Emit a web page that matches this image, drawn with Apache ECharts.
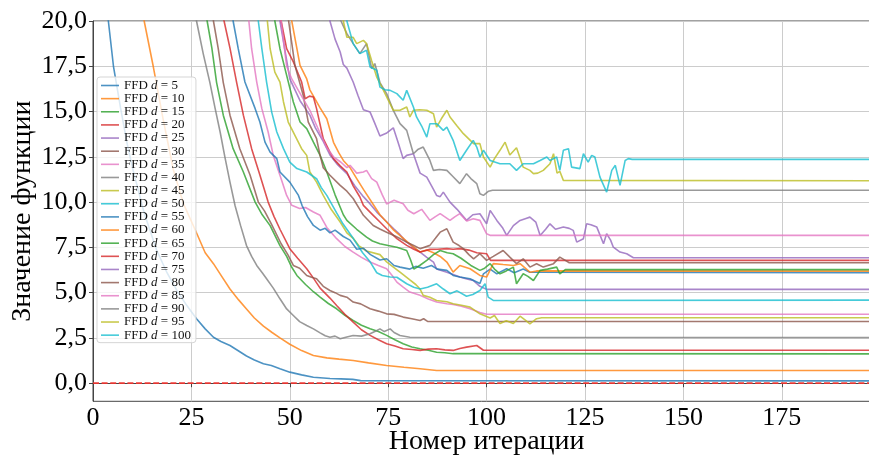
<!DOCTYPE html>
<html><head><meta charset="utf-8">
<script src="https://cdn.jsdelivr.net/npm/echarts@6/dist/echarts.min.js"></script>
<style>html,body{margin:0;padding:0;background:#fff}#c{width:869px;height:459px}</style>
</head><body><div id="c"></div>
<script>
// ---- data (x = iteration, y = function value) ----
const dims = [5,10,15,20,25,30,35,40,45,50,55,60,65,70,75,80,85,90,95,100];
const colors = ['#1f77b4','#ff7f0e','#2ca02c','#d62728','#9467bd','#8c564b','#e377c2','#7f7f7f','#bcbd22','#17becf'];
const xTicks = [0,25,50,75,100,125,150,175];
const yTicks = [0,2.5,5,7.5,10,12.5,15,17.5,20];

const d5 = [[2.5,22.8],[3.9,20],[5.2,17.5],[7,15.2],[8.6,13.3],[10.2,11.75],[13,9.4],[16.2,7.33],[18.8,6.1],[21.3,5.12],[23.8,4.3],[26.3,3.56],[28.5,3.0],[30.6,2.54],[32.5,2.3],[34.8,2.08],[37,1.78],[39,1.5],[41,1.28],[43.3,1.07],[45.3,0.98],[47.5,0.8],[50,0.61],[53,0.46],[56,0.33],[60.2,0.26],[63,0.24],[66,0.21],[68,0.14],[200,0.13]];
const d10 = [[11,23.3],[13,20],[15.3,17.5],[17.8,14.6],[20.4,11.8],[23,9.9],[25.9,8.5],[28.5,7.2],[30.6,6.6],[32.7,5.9],[34.8,5.2],[37,4.6],[39,4.1],[41,3.6],[43.3,3.15],[45.5,2.8],[47.5,2.5],[50,2.15],[53,1.8],[56,1.53],[59.4,1.4],[62.5,1.33],[66.1,1.25],[70,1.12],[74.6,0.98],[79,0.88],[83.1,0.8],[87.3,0.7],[200,0.7]];
const d15 = [[27.5,22],[29,20],[30.2,18.5],[31.4,16.6],[33.1,14.8],[35.6,12.95],[38.2,11.66],[41.2,10.0],[43,9.3],[45,8.7],[47.5,7.6],[49.2,7.0],[50.5,6.4],[51.8,5.95],[54,5.45],[56,5.05],[57.7,4.75],[59.8,4.4],[61.9,4.11],[64,3.75],[66.1,3.46],[68.2,3.2],[70.4,3.0],[72.5,2.85],[74.6,2.64],[76.7,2.4],[78.8,2.18],[81,2.0],[83.1,1.9],[85.2,1.82],[87.3,1.71],[89.4,1.68],[91.5,1.63],[200,1.62]];
const d20 = [[31.5,22.3],[33.3,20],[34.8,18.5],[36.5,16.6],[38.2,14.8],[40.3,12.95],[42.4,11.5],[44.5,10.0],[46,9.2],[47.5,8.5],[50,7.43],[52,6.9],[54.3,6.32],[56,5.8],[57.7,5.25],[60.2,4.7],[61.9,4.29],[64,3.8],[66.1,3.37],[68.2,2.95],[70.4,2.64],[72.5,2.4],[74.6,2.18],[76.7,2.05],[78.8,1.9],[81,1.86],[83.1,1.81],[85.2,1.88],[87.3,1.9],[89.4,1.84],[91.5,1.81],[93.2,1.92],[94.9,1.99],[97.5,2.08],[99.2,1.82],[200,1.82]];
const d25 = [[46,22.3],[47.5,20],[50,16.8],[52.6,15.6],[55.1,14.8],[56.5,14.1],[58.5,13.35],[60.2,12.6],[62,12.1],[64.5,11.57],[66.5,10.9],[68.7,10.3],[70.4,9.9],[72.1,9.45],[74.2,9.0],[76.4,8.53],[78,8.2],[79.7,7.79],[81.4,7.5],[83.1,7.24],[84.8,6.95],[86.5,6.69],[87.3,6.3],[89.9,6.13],[91.5,6.0],[93.2,5.86],[95,5.75],[96.6,5.67],[98.3,5.35],[100,5.18],[200,5.18]];
const d30 = [[29,22.5],[30.6,20],[31.8,18.5],[33.1,16.6],[34.8,14.8],[37.3,12.95],[39.9,11.5],[42,10.0],[43.6,9.5],[45.3,8.8],[47.8,7.7],[49.5,7.1],[50.9,6.5],[52.5,6.35],[54.3,5.95],[55.5,5.85],[56.8,5.77],[58.5,5.35],[60.2,5.12],[61.5,5.0],[62.8,4.85],[64.5,4.75],[66.1,4.48],[68,4.38],[70.4,4.11],[72.5,3.98],[74.6,3.83],[76.5,3.8],[78.8,3.65],[81,3.56],[83.1,3.46],[84,3.56],[85,3.41],[200,3.41]];
const d35 = [[38,22.5],[39.6,20],[40.3,18.47],[41.6,16.63],[42.9,15.16],[44.5,13.87],[45.8,12.58],[47.5,11.48],[49.2,10.37],[50.5,9.82],[52.5,9.65],[54,9.7],[56,9.45],[57.7,9.27],[59.4,8.6],[61.9,7.98],[64,7.55],[66.1,7.24],[68.2,6.95],[70.4,6.69],[72.5,6.5],[74.6,6.32],[76,5.95],[77.2,5.58],[78.8,5.3],[80.5,5.03],[83.1,4.85],[85.2,4.65],[87.3,4.48],[89.9,4.39],[91.5,4.35],[93.6,4.25],[95.8,4.11],[98.3,3.9],[100,3.81],[200,3.81]];
const d40 = [[24.5,22.8],[26.3,20],[28,18.2],[29.7,16.6],[31,15.2],[32.3,13.87],[33.5,12.5],[34.8,11.1],[36.1,9.8],[37.5,8.7],[39,7.6],[40.3,7.0],[41.6,6.5],[43,6.1],[44.1,5.77],[45.8,5.25],[47.5,4.66],[49.2,4.1],[50.9,3.74],[52.5,3.4],[54.3,3.19],[56,3.0],[57.7,2.78],[59,2.62],[60.2,2.54],[61.5,2.6],[62.8,2.45],[64.5,2.55],[66.1,2.63],[68.2,2.6],[70.4,2.73],[72,2.9],[72.9,3.0],[74,2.85],[75.5,3.0],[76.5,2.8],[78,2.63],[80.5,2.54],[200,2.52]];
const d45 = [[42.5,22.3],[44.3,20],[45,18.47],[46.2,17.18],[47.5,16.63],[48.4,15.53],[49.6,14.42],[51.3,13.69],[53,12.95],[54.3,12.58],[55.1,11.66],[56.8,11.1],[58.5,10.37],[60.5,9.6],[62.8,8.9],[64.5,8.3],[66.1,8.0],[67.5,7.6],[69.5,7.3],[72.9,7.1],[74.6,6.7],[76.4,6.4],[78,6.13],[80.5,5.7],[82,5.45],[83.1,5.2],[83.9,4.85],[85.6,4.75],[87.3,4.57],[89.9,4.5],[91.5,4.39],[93.6,4.3],[95.8,4.2],[98.3,3.83],[100.9,3.6],[102,3.74],[103.4,3.3],[105,3.45],[106.8,3.3],[108.5,3.7],[110,3.45],[111,3.28],[112.7,3.56],[114,3.61],[200,3.61]];
const d50 = [[40.5,22.5],[42,20],[42.9,18.47],[44.1,16.63],[45.4,14.97],[46.7,13.87],[48.4,12.95],[50,12.21],[51.8,11.85],[54.3,11.66],[56.8,11.29],[58,10.8],[59.4,10.37],[61.9,9.4],[63.5,8.8],[66.1,8.0],[67,7.7],[68.5,7.2],[70.4,6.7],[72.1,6.1],[73.5,5.95],[75.5,5.86],[77.2,5.85],[79.7,5.49],[81.5,5.3],[83.1,5.2],[85,5.3],[87.3,5.49],[89,5.2],[90.7,4.94],[92.5,5.1],[94.9,4.8],[96.5,4.9],[98.3,5.12],[99.6,5.49],[100.4,4.75],[101.7,4.57],[200,4.59]];
const d55 = [[34,22.5],[35.6,20],[36.9,18.47],[38.6,16.63],[41.2,15.16],[42.4,14.42],[43.7,13.31],[45,12.76],[46.7,12.4],[47.5,11.66],[50,11.1],[52.2,10.37],[53.1,9.82],[54.5,9.2],[56,8.71],[57.7,8.45],[59,8.55],[60.2,8.3],[61.5,8.45],[63.6,8.1],[65.3,7.9],[67,7.4],[68.7,7.45],[70.5,7.1],[72.9,6.8],[74.6,6.87],[76.5,6.5],[78,6.41],[80.5,6.3],[82,6.45],[83.9,6.35],[86,6.5],[87.5,6.3],[89.9,6.23],[91.5,5.95],[93.2,5.86],[95.8,5.77],[98.3,5.5],[99.2,6.04],[100.9,6.3],[102.6,6.04],[104,6.2],[105.1,6.32],[107,6.1],[109.3,6.3],[111,6.13],[200,6.1]];
const d60 = [[48.5,22.5],[50.5,20],[51.7,18.6],[52.6,17.55],[54.3,16.8],[55.1,16.2],[57.7,15.2],[59.4,14.6],[61.1,13.3],[62.5,12.7],[63.6,12.3],[65.3,11.9],[67,11.3],[68.7,10.7],[70.5,10.1],[72.9,9.3],[74.6,8.9],[76.4,8.45],[78.9,7.98],[81,7.6],[83.1,7.24],[84.8,7.35],[86.5,7.2],[88.2,7.0],[89.9,6.69],[91.5,6.13],[93.2,6.5],[95.8,6.32],[98.3,5.95],[100,5.86],[101.7,6.6],[104.2,6.55],[106.8,6.5],[108.5,6.6],[111,6.13],[112.7,6.2],[200,6.19]];
const d65 = [[44.5,22.5],[46.2,20],[47.5,18.47],[49.2,17.0],[50.9,15.53],[52.6,14.42],[54.3,14.06],[56,13.31],[57.7,12.58],[59.4,11.66],[61.5,10.4],[63.6,9.3],[64.5,8.99],[67,8.5],[69.5,8.07],[71,7.85],[72.9,7.7],[75,7.6],[77.2,7.51],[79.7,7.33],[80.7,6.8],[81.5,6.3],[83,6.5],[84.8,6.78],[86.5,7.1],[88.2,7.33],[90,7.2],[91.5,7.15],[93.5,6.9],[96,6.5],[98.3,6.23],[99.5,6.35],[100.9,6.6],[102,6.3],[103.4,6.04],[105,6.2],[106.8,6.41],[107.6,5.49],[109.3,6.04],[110.5,5.9],[111.9,5.67],[113.6,6.23],[115.5,6.3],[117.8,6.41],[118.6,6.04],[120,6.27],[200,6.27]];
const d70 = [[46,22.5],[47.8,20],[49.2,18.47],[50.9,17.74],[53,16.63],[53.9,15.71],[55,15.85],[56,15.8],[56.8,15.16],[58.5,13.5],[60.2,12.76],[61.1,12.4],[62.8,12.0],[64.5,11.66],[66.1,10.9],[67.8,10.28],[68.7,9.82],[71.2,9.27],[72.9,8.9],[74.6,8.53],[77.2,7.98],[79.7,7.61],[81.5,7.4],[83.1,7.24],[85.6,7.39],[87.5,7.4],[89.9,7.43],[91.5,7.4],[93.2,7.43],[95.5,7.35],[97.5,7.2],[100,7.15],[101,6.78],[200,6.78]];
const d75 = [[59,22],[60.2,20],[61.5,19.0],[62.8,18.29],[63.6,17.6],[64.5,17.4],[66.1,16.63],[67.3,15.9],[68.7,15.1],[70.4,14.97],[71.5,14.4],[72.9,13.65],[74.5,13.8],[76.3,14.1],[77.5,13.3],[78.8,12.4],[79.7,12.58],[81.4,12.67],[83.1,11.6],[84.8,11.38],[86.5,10.7],[87.3,10.37],[88.2,10.3],[89,10.55],[90.7,10.0],[92.5,9.6],[94.9,8.99],[96.5,9.3],[98.3,9.36],[100,8.8],[100.9,9.54],[102.6,8.99],[104,8.6],[105.1,8.16],[106.8,8.7],[108.5,8.99],[110,9.1],[111,9.17],[112.5,8.9],[113.6,8.16],[115,8.5],[116.1,8.8],[117.5,8.5],[119.5,8.62],[121,8.55],[122,8.44],[122.9,7.79],[124.6,7.98],[125.4,8.8],[126.5,8.75],[128,8.62],[129.7,7.7],[130.5,8.25],[131.5,7.9],[132.2,7.51],[133.9,7.24],[135.6,7.15],[137.3,6.93],[200,6.93]];
const d80 = [[48,22.5],[49.7,20],[51.3,17.55],[53.4,15.9],[54.7,14.42],[56.8,13.5],[57.7,12.58],[58.5,11.9],[60.2,11.48],[62.8,10.92],[64.5,10.6],[66.1,10.2],[68.7,9.27],[71.2,8.71],[73,8.5],[74.6,8.34],[77,8.1],[79.7,7.79],[81.5,7.6],[83.1,7.43],[85.6,7.61],[87,8.0],[88.2,8.34],[89.9,8.53],[91.5,7.79],[93,7.6],[94.1,7.43],[95.5,7.1],[96.7,6.87],[98.3,7.15],[100,6.78],[101.7,7.0],[104.2,7.33],[105.9,6.96],[107.6,6.6],[109.3,6.87],[111,6.41],[112.7,6.6],[114.4,6.41],[117,6.6],[118.6,6.96],[120,6.78],[121,6.65],[200,6.65]];
const d85 = [[46,22.5],[47.8,20],[49.2,17.5],[50.5,16.8],[51.7,16.35],[53.4,15.7],[55.1,15.07],[57.7,13.8],[59.4,13.0],[61.1,12.5],[63,12.2],[64.5,11.9],[65.3,12.03],[67,11.6],[68.7,11.66],[69.5,11.75],[70.8,11.3],[72.1,11.1],[73.5,10.4],[74.6,9.9],[76.5,10.1],[78.8,9.91],[80,9.55],[81.5,9.36],[83.5,9.6],[85.6,8.99],[87,9.2],[88.2,9.36],[90.7,8.99],[92,9.2],[93.2,9.36],[95,8.95],[96.6,9.08],[98.3,8.99],[100,8.25],[101,8.16],[200,8.16]];
const d90 = [[61.5,21],[63,20],[64.5,19.3],[66.1,18.75],[67.8,18.2],[69.5,18.75],[70.8,17.37],[71.6,17.65],[72.9,16.6],[74.6,15.99],[76.3,15.07],[78,14.33],[79.7,13.96],[81.4,12.67],[82.5,12.9],[83.9,13.04],[85.6,12.3],[86.5,11.75],[88,11.8],[89.9,11.75],[91.5,11.4],[93.2,11.02],[94.9,11.57],[96,11.3],[97.5,11.02],[98.3,10.46],[99.2,10.37],[100.5,10.6],[101.5,10.65],[200,10.65]];
const d95 = [[62.5,21.5],[63.6,20],[64.5,19.1],[66.1,19.1],[67,18.75],[68.7,18.93],[69.5,18.75],[70.8,17.8],[72.1,16.9],[73.8,16.17],[76.3,15.07],[78,15.07],[79.7,15.25],[80.5,14.7],[81.4,15.07],[83,15.1],[84.8,15.07],[86.5,14.88],[87.3,14.14],[88.5,14.6],[89.9,15.07],[90.7,14.7],[92.5,14.2],[94.1,13.78],[96.7,13.23],[98.3,13.23],[99.2,12.49],[100.9,11.93],[102,12.4],[103.4,12.86],[104.7,13.31],[105.9,12.6],[107.6,13.0],[109.3,11.93],[111,11.75],[111.9,11.57],[113,11.6],[114.4,11.75],[116.1,12.12],[117,12.67],[117.9,11.6],[118.6,11.7],[119.5,11.2],[200,11.18]];
const d100 = [[63.5,21.5],[64.5,20],[66.1,18.75],[67.8,18.2],[69.5,18.38],[70.4,17.46],[72.1,17.28],[72.9,16.35],[74.2,16.2],[75.5,16.17],[77.2,15.99],[78.8,15.62],[79.7,16.17],[81.4,15.25],[82.2,14.7],[83.5,14.2],[84.8,13.59],[85.6,14.33],[87.3,14.33],[89,13.96],[89.9,14.14],[91.5,13.41],[93.2,12.3],[94.9,12.86],[96.6,13.41],[97.5,13.04],[98.3,12.49],[99.2,12.86],[100.9,12.3],[103.4,12.12],[105.9,12.12],[107.6,11.75],[109.3,12.12],[111.9,12.12],[113.6,12.3],[115.3,12.49],[116.1,12.3],[117.8,12.49],[118.6,11.75],[119.5,12.86],[120.8,12.95],[121.6,11.93],[123.7,11.85],[124.6,12.67],[125.8,12.21],[126.7,12.58],[127.5,12.49],[128.8,11.38],[130.5,10.55],[131.8,11.75],[132.7,12.03],[133.9,10.92],[135.2,12.3],[136,12.4],[137,12.36],[200,12.36]];
const referenceLine = [[0,0],[200,0]];

const allData = [d5,d10,d15,d20,d25,d30,d35,d40,d45,d50,d55,d60,d65,d70,d75,d80,d85,d90,d95,d100];
const names = dims.map(d => 'FFD d = ' + d);

const FONT = 'Liberation Serif';
const series = allData.map((arr, i) => ({
  type: 'line', name: names[i], data: arr,
  symbol: 'none', showSymbol: false, clip: true, animation: false,
  lineStyle: { width: 1.6, color: colors[i % 10], opacity: 0.8 },
  itemStyle: { color: colors[i % 10], opacity: 0.8 },
  emphasis: { disabled: true }
}));
series.push({
  type: 'line', name: 'ref', data: referenceLine, symbol: 'none', animation: false,
  lineStyle: { width: 1.8, color: '#ec3530', type: [6, 2.6], opacity: 0.95 },
  emphasis: { disabled: true }, z: 3
});

const chart = echarts.init(document.getElementById('c'), null, { renderer: 'canvas' });
chart.setOption({
  backgroundColor: '#fff',
  animation: false,
  grid: { left: 93, top: 21, right: -11.2, bottom: 57.7, containLabel: false, outerBoundsMode: 'none',
    show: true, borderColor: '#444', borderWidth: 1, backgroundColor: 'transparent' },
  xAxis: {
    type: 'value', min: 0, max: 200, interval: 25,
    name: 'Номер итерации', nameLocation: 'middle', nameGap: 26, nameMoveOverlap: false,
    nameTextStyle: { fontFamily: FONT, fontSize: 28, color: '#000' },
    axisLine: { show: true, lineStyle: { color: '#444', width: 1 } },
    axisTick: { show: true, length: 4, lineStyle: { color: '#444' } },
    axisLabel: { fontFamily: FONT, fontSize: 26, color: '#000', margin: 4, customValues: xTicks },
    splitLine: { show: true, lineStyle: { color: '#cccccc', width: 1 } }
  },
  yAxis: {
    type: 'value', min: -1, max: 20,
    name: 'Значение функции', nameLocation: 'middle', nameGap: 56, nameMoveOverlap: false,
    nameTextStyle: { fontFamily: FONT, fontSize: 28, color: '#000' },
    axisLine: { show: true, lineStyle: { color: '#444', width: 1 } },
    axisTick: { show: true, length: 4, lineStyle: { color: '#444' }, customValues: yTicks },
    axisLabel: { fontFamily: FONT, fontSize: 26, color: '#000', margin: 6, customValues: yTicks,
      formatter: v => v.toFixed(1).replace('.', ',') },
    splitLine: { show: true, lineStyle: { color: '#cccccc', width: 1 } }
  },
  legend: {
    orient: 'vertical', left: 97, top: 77,
    data: names,
    icon: 'rect',
    itemWidth: 18, itemHeight: 1.6, itemGap: 0.14,
    padding: [2, 5, 1, 4],
    backgroundColor: 'rgba(255,255,255,0.8)', borderColor: '#d5d5d5', borderWidth: 1, borderRadius: 3,
    formatter: n => n.replace(' d ', ' {i|d} '),
    textStyle: { fontFamily: FONT, fontSize: 13, color: '#111', lineHeight: 13,
      rich: { i: { fontFamily: FONT, fontStyle: 'italic', fontSize: 13, lineHeight: 13, color: '#111' } } }
  },
  series: series
});
</script></body></html>
